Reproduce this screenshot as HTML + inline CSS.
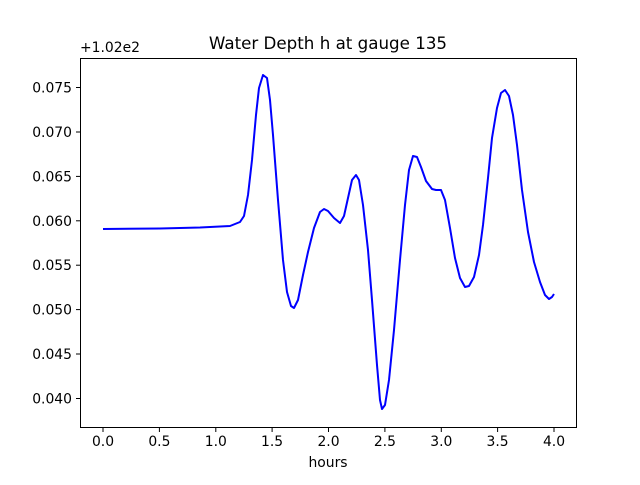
<!DOCTYPE html>
<html><head><meta charset="utf-8"><style>body{margin:0;background:#fff}</style></head><body>
<svg width="640" height="480" xmlns="http://www.w3.org/2000/svg" font-family="DejaVu Sans, sans-serif" font-size="13.9">
<rect width="640" height="480" fill="#fff"/>
<text x="328" y="49" text-anchor="middle" font-size="16.7">Water Depth h at gauge 135</text>
<text x="80" y="52" font-size="13.9">+1.02e2</text>
<polyline fill="none" stroke="#0000ff" stroke-width="2" stroke-linejoin="round" points="103,229 160,228.5 200,227.5 230,226 240,222 244,216 248,195 252,160 256,115 259,88 263,75 267,78 270,100 273,135 278,200 283,260 287,292 291,306 294,308 298,300 303,275 308,252 314,228 320,212 324,209 328,211 334,218 340,223 344,216 348,198 352,180 356,175 359,180 363,205 368,250 372,300 377,365 380,400 382,409 385,405 389,380 394,330 400,260 405,205 409,170 413,156 417,157 421,167 426,181 432,189 436,190 441,190 445,200 450,228 455,258 460,278 465,287 469,286 474,277 479,255 483,225 488,178 492,138 497,108 501,93 505,90 509,96 513,115 517,145 522,190 528,232 534,262 540,282 545,295 549,299 552,297 554,294"/>
<rect x="80.5" y="58.5" width="496" height="369" fill="none" stroke="#000" stroke-width="1"/>
<g stroke="#000">
<line x1="103" y1="427" x2="103" y2="432"/><line x1="159.4" y1="427" x2="159.4" y2="432"/><line x1="215.8" y1="427" x2="215.8" y2="432"/><line x1="272.1" y1="427" x2="272.1" y2="432"/><line x1="328.5" y1="427" x2="328.5" y2="432"/><line x1="384.9" y1="427" x2="384.9" y2="432"/><line x1="441.3" y1="427" x2="441.3" y2="432"/><line x1="497.6" y1="427" x2="497.6" y2="432"/><line x1="554" y1="427" x2="554" y2="432"/>
<line x1="76" y1="87.5" x2="80" y2="87.5"/><line x1="76" y1="132" x2="80" y2="132"/><line x1="76" y1="176.4" x2="80" y2="176.4"/><line x1="76" y1="220.8" x2="80" y2="220.8"/><line x1="76" y1="265.2" x2="80" y2="265.2"/><line x1="76" y1="309.6" x2="80" y2="309.6"/><line x1="76" y1="354" x2="80" y2="354"/><line x1="76" y1="398.5" x2="80" y2="398.5"/>
</g>
<g text-anchor="middle">
<text x="103" y="446">0.0</text><text x="159.4" y="446">0.5</text><text x="215.8" y="446">1.0</text><text x="272.1" y="446">1.5</text><text x="328.5" y="446">2.0</text><text x="384.9" y="446">2.5</text><text x="441.3" y="446">3.0</text><text x="497.6" y="446">3.5</text><text x="554" y="446">4.0</text>
<text x="328" y="467">hours</text>
</g>
<g text-anchor="end">
<text x="72" y="92.5">0.075</text><text x="72" y="137">0.070</text><text x="72" y="181.4">0.065</text><text x="72" y="225.8">0.060</text><text x="72" y="270.2">0.055</text><text x="72" y="314.6">0.050</text><text x="72" y="359">0.045</text><text x="72" y="403.5">0.040</text>
</g>
</svg>
</body></html>
